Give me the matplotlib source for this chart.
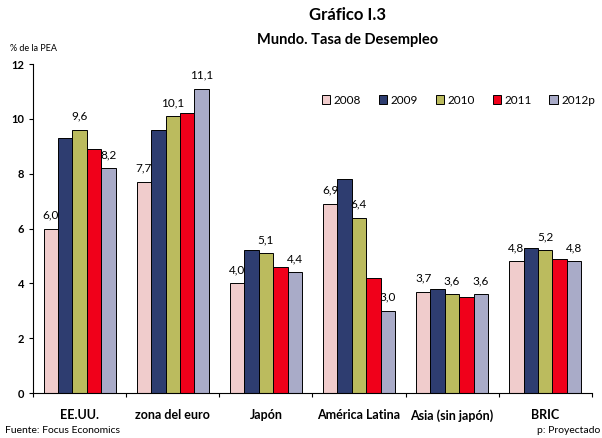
import numpy as np
import matplotlib.pyplot as plt

plt.rcParams['font.family'] = ['Lato', 'DejaVu Sans']

regiones = ["EE.UU.", "zona del euro", "Japón", "América Latina", "Asia (sin japón)", "BRIC"]
anios = ["2008", "2009", "2010", "2011", "2012p"]
v2008 = [6.0, 7.7, 4.0, 6.9, 3.7, 4.8]
v2009 = [9.3, 9.6, 5.2, 7.8, 3.8, 5.3]
v2010 = [9.6, 10.1, 5.1, 6.4, 3.6, 5.2]
v2011 = [8.9, 10.2, 4.6, 4.2, 3.5, 4.9]
v2012 = [8.2, 11.1, 4.4, 3.0, 3.6, 4.8]
series = [v2008, v2009, v2010, v2011, v2012]
colores = ["#F0CCCC", "#2E3D70", "#BBBB5E", "#F0001A", "#A9ABC8"]
etiquetados = [0, 2, 4]  # años con valor rotulado

fig = plt.figure(figsize=(6.02, 4.38), dpi=100)
ax = fig.add_axes([0.055, 0.1027, 0.928, 0.751])

x = np.arange(len(regiones))
w = 0.155
for i, (vals, c) in enumerate(zip(series, colores)):
    pos = x + (i - 2) * w
    ax.bar(pos, vals, w, color=c, edgecolor="black", linewidth=0.7, label=anios[i], zorder=2)
    if i in etiquetados:
        for p, v in zip(pos, vals):
            ax.text(p, v + 0.3, f"{v:.1f}".replace(".", ","), ha="center", va="bottom", fontsize=8.5)

ax.set_xlim(-0.5, 5.5)
ax.set_ylim(0, 12)
ax.set_yticks(range(0, 13, 2))
ax.set_yticklabels([str(t) for t in range(0, 13, 2)], fontweight="bold", fontsize=8)
ax.set_xticks(np.arange(-0.5, 6, 1), minor=False)
ax.set_xticklabels([])
ax.tick_params(axis="x", length=3, direction="out")
ax.tick_params(axis="y", length=3, direction="out")
for r, xi in zip(regiones, x):
    ax.text(xi, -0.6, r, ha="center", va="top", fontweight="bold", fontsize=9)

for s in ["top", "right"]:
    ax.spines[s].set_visible(False)

ax.legend(loc="center right", bbox_to_anchor=(1.025, 0.89), ncol=5, frameon=False,
          fontsize=8.5, handlelength=0.7, handleheight=0.7, columnspacing=1.5, handletextpad=0.3)

fig.text(0.578, 0.965, "Gráfico I.3", ha="center", va="center", fontweight="bold", fontsize=12)
fig.text(0.578, 0.908, "Mundo. Tasa de Desempleo", ha="center", va="center", fontweight="bold", fontsize=10.5)
fig.text(0.017, 0.89, "% de la PEA", ha="left", va="center", fontsize=6.5)
fig.text(0.008, 0.018, "Fuente: Focus Economics", ha="left", va="center", fontsize=7.5)
fig.text(0.997, 0.018, "p: Proyectado", ha="right", va="center", fontsize=7.5)

plt.savefig("out.png", dpi=100)
